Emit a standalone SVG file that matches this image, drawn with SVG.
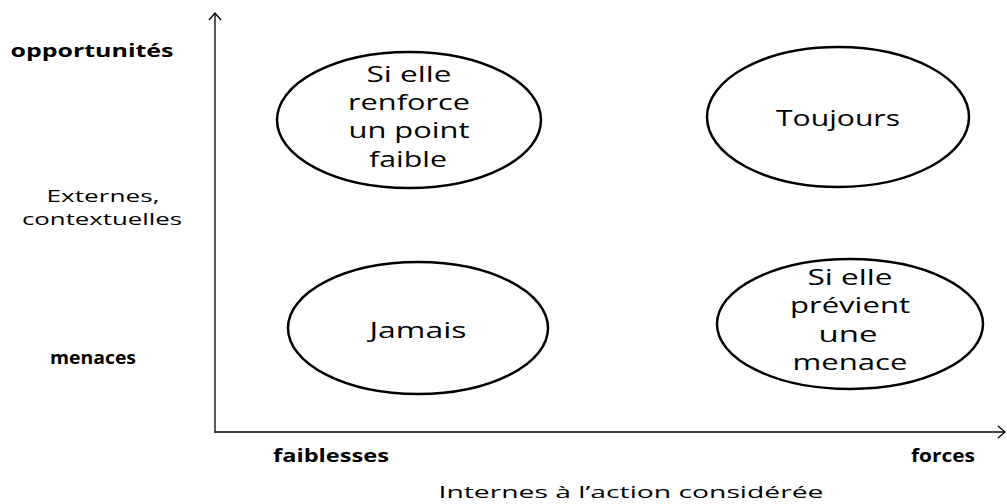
<svg xmlns="http://www.w3.org/2000/svg" width="1007" height="504" viewBox="0 0 1007 504">
<style>
.node ellipse{fill:#fff;stroke:#000;stroke-width:2.5}
.nt{font-family:"Open Sans","Noto Sans",sans-serif;font-size:21px;text-anchor:middle;fill:#000}
.lb{font-family:"Open Sans","Noto Sans",sans-serif;font-size:17px;text-anchor:middle;fill:#000}
.bd{font-weight:bold}
.ax{stroke:#000;stroke-width:1.3;fill:none}
</style>
<defs>
<marker id="arr" viewBox="-10 -8 12 16" refX="0" refY="0" markerWidth="12" markerHeight="16" markerUnits="userSpaceOnUse" orient="auto">
<path d="M-7,-6 L0,0 L-7,6" fill="none" stroke="#000" stroke-width="1.3"/>
</marker>
</defs>
<rect width="1007" height="504" fill="#fff"/>
<g id="connectors">
<line class="ax" x1="215" y1="433" x2="215" y2="13" marker-end="url(#arr)"/>
<line class="ax" x1="215" y1="432" x2="1005" y2="432" marker-end="url(#arr)"/>
</g>
<g id="labels">
<text class="lb bd" x="92" y="57" textLength="163" lengthAdjust="spacingAndGlyphs">opportunités</text>
<text class="lb" x="103" y="202" textLength="113" lengthAdjust="spacingAndGlyphs">Externes,</text>
<text class="lb" x="102" y="225" textLength="160" lengthAdjust="spacingAndGlyphs">contextuelles</text>
<text class="lb bd" x="93" y="364" textLength="86" lengthAdjust="spacingAndGlyphs">menaces</text>
<text class="lb bd" x="331" y="462" textLength="116" lengthAdjust="spacingAndGlyphs">faiblesses</text>
<text class="lb bd" x="943" y="462" textLength="64" lengthAdjust="spacingAndGlyphs">forces</text>
<text class="lb" x="631" y="498" textLength="385" lengthAdjust="spacingAndGlyphs">Internes à l’action considérée</text>
</g>
<g id="n1" class="node">
<ellipse cx="409" cy="120" rx="132" ry="68"/>
<text class="nt" x="409" y="82" textLength="85" lengthAdjust="spacingAndGlyphs">Si elle</text>
<text class="nt" x="409" y="110" textLength="122" lengthAdjust="spacingAndGlyphs">renforce</text>
<text class="nt" x="409" y="138" textLength="121" lengthAdjust="spacingAndGlyphs">un point</text>
<text class="nt" x="408" y="167" textLength="78" lengthAdjust="spacingAndGlyphs">faible</text>
</g>
<g id="n2" class="node">
<ellipse cx="838" cy="117" rx="131" ry="70"/>
<text class="nt" x="838" y="126" textLength="124" lengthAdjust="spacingAndGlyphs">Toujours</text>
</g>
<g id="n3" class="node">
<ellipse cx="418" cy="328" rx="130" ry="66"/>
<text class="nt" x="418" y="338" textLength="97" lengthAdjust="spacingAndGlyphs">Jamais</text>
</g>
<g id="n4" class="node">
<ellipse cx="850" cy="324" rx="133" ry="65"/>
<text class="nt" x="850" y="285" textLength="85" lengthAdjust="spacingAndGlyphs">Si elle</text>
<text class="nt" x="850" y="313" textLength="120" lengthAdjust="spacingAndGlyphs">prévient</text>
<text class="nt" x="848" y="342" textLength="59" lengthAdjust="spacingAndGlyphs">une</text>
<text class="nt" x="850" y="370" textLength="115" lengthAdjust="spacingAndGlyphs">menace</text>
</g>
</svg>
